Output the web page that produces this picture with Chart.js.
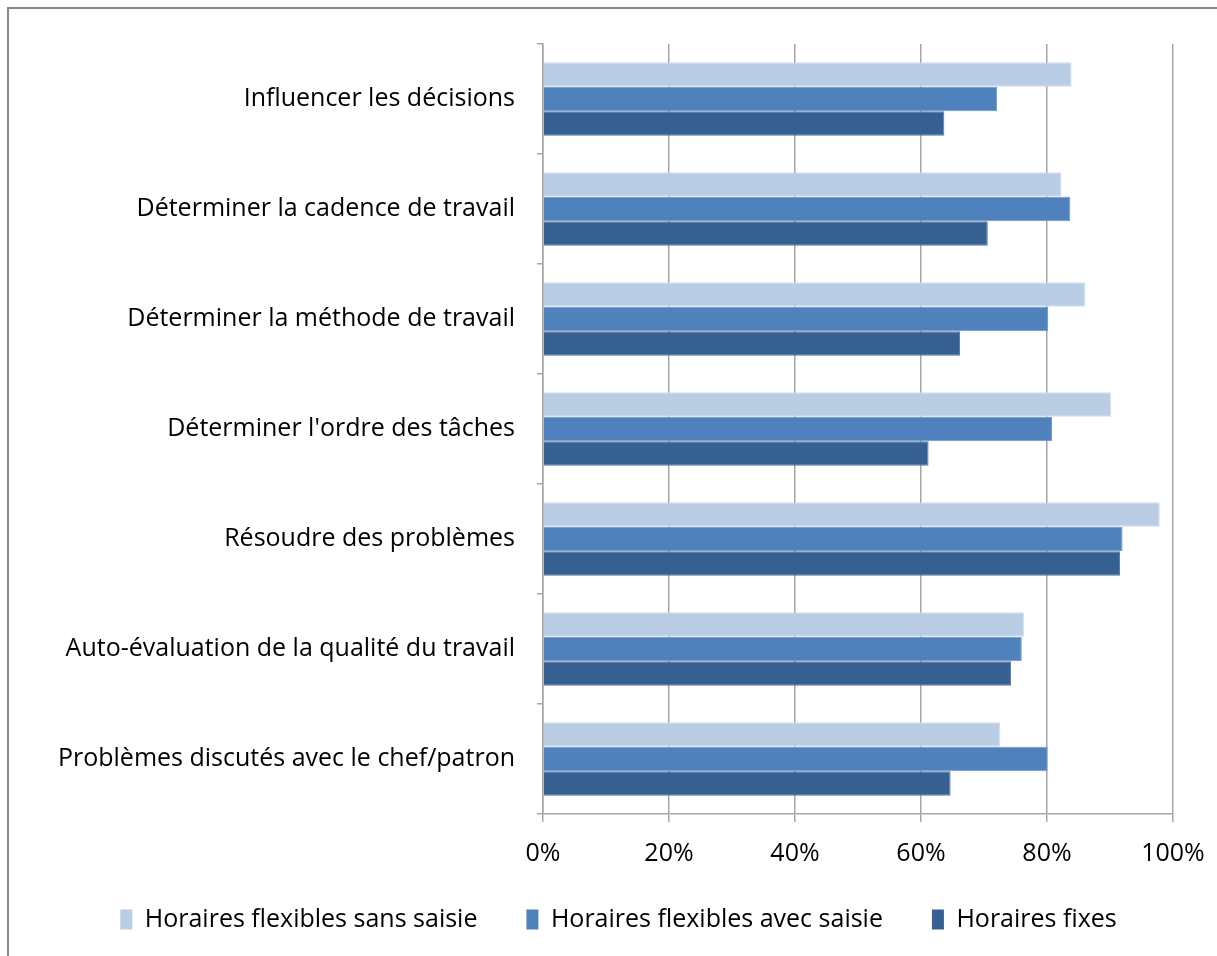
<!DOCTYPE html>
<html>
<head>
<meta charset="utf-8">
<script src="https://cdn.jsdelivr.net/npm/chart.js@4"></script>
<style>
  html, body { margin: 0; padding: 0; background: #fff; overflow: hidden; }
  #wrap { width: 1217px; height: 956px; position: relative; }
</style>
</head>
<body>
<div id="wrap"><canvas id="chart"></canvas></div>
<script>
const categories = [
  'Influencer les décisions',
  'Déterminer la cadence de travail',
  'Déterminer la méthode de travail',
  "Déterminer l'ordre des tâches",
  'Résoudre des problèmes',
  'Auto-évaluation de la qualité du travail',
  'Problèmes discutés avec le chef/patron'
];

const seriesNames = ['Horaires flexibles sans saisie', 'Horaires flexibles avec saisie', 'Horaires fixes'];

const sansSaisie = [0.839, 0.823, 0.861, 0.902, 0.979, 0.764, 0.726];
const avecSaisie = [0.721, 0.837, 0.802, 0.808, 0.920, 0.760, 0.801];
const fixes      = [0.637, 0.706, 0.662, 0.612, 0.916, 0.743, 0.647];

const xTicks = [0, 0.2, 0.4, 0.6, 0.8, 1];

const colors = ['#b9cde5', '#4f81bd', '#376092'];
const borders = ['#d3e0ef', '#6b96c9', '#5577a3'];

const font = "'Open Sans', 'Noto Sans', sans-serif";

const LEGEND_SHIFT = 22; // legend sits a bit right of centre in the original

const frame = {
  id: 'frame',
  beforeDraw(chart) {
    chart.legend.left += LEGEND_SHIFT;
    chart.legend.right += LEGEND_SHIFT;
  },
  afterDraw(chart) {
    chart.legend.left -= LEGEND_SHIFT;
    chart.legend.right -= LEGEND_SHIFT;
    // outer frame (only top and left edges are visible in the original)
    const c = chart.ctx;
    c.save();
    c.strokeStyle = '#878787';
    c.lineWidth = 2;
    c.beginPath();
    c.moveTo(8, 1000);
    c.lineTo(8, 8);
    c.lineTo(1217, 8);
    c.stroke();
    c.restore();
  }
};

const data = {
  labels: categories,
  datasets: [sansSaisie, avecSaisie, fixes].map((vals, i) => ({
    label: seriesNames[i],
    data: vals,
    backgroundColor: colors[i],
    borderColor: borders[i],
    borderWidth: 1,
    categoryPercentage: 0.67,
    barPercentage: 1.0
  }))
};

new Chart(document.getElementById('chart'), {
  type: 'bar',
  data: data,
  options: {
    indexAxis: 'y',
    responsive: true,
    maintainAspectRatio: false,
    animation: false,
    layout: { padding: { left: 20, right: 44, top: 44, bottom: 14 } },
    scales: {
      x: {
        min: 0,
        max: 1,
        afterBuildTicks: s => { s.ticks = xTicks.map(v => ({ value: v })); },
        afterFit: s => { s.height = 83; s.paddingLeft = 0; s.paddingRight = 0; },
        grid: { color: '#a6a6a6', lineWidth: 1.5, tickLength: 8 },
        border: { color: '#a6a6a6', width: 1.5 },
        ticks: {
          color: '#000',
          padding: 17,
          font: { family: font, size: 25 },
          callback: v => Math.round(v * 100) + '%'
        }
      },
      y: {
        afterFit: s => { s.width = 523; },
        grid: { offset: true, drawOnChartArea: false, color: '#a6a6a6', lineWidth: 1.5, tickLength: 6 },
        border: { color: '#a6a6a6', width: 1.5 },
        ticks: {
          color: '#000',
          padding: 22,
          font: { family: font, size: 25 }
        }
      }
    },
    plugins: {
      legend: {
        position: 'bottom',
        labels: {
          color: '#000',
          boxWidth: 12,
          boxHeight: 20,
          padding: 10,
          font: { family: font, size: 25 },
          generateLabels: chart => chart.data.datasets.map((d, i) => ({
            text: i < 2 ? d.label + '      ' : d.label,
            fillStyle: colors[i],
            strokeStyle: colors[i],
            lineWidth: 0,
            datasetIndex: i
          }))
        }
      },
      tooltip: { enabled: false }
    }
  },
  plugins: [frame]
});
</script>
</body>
</html>
